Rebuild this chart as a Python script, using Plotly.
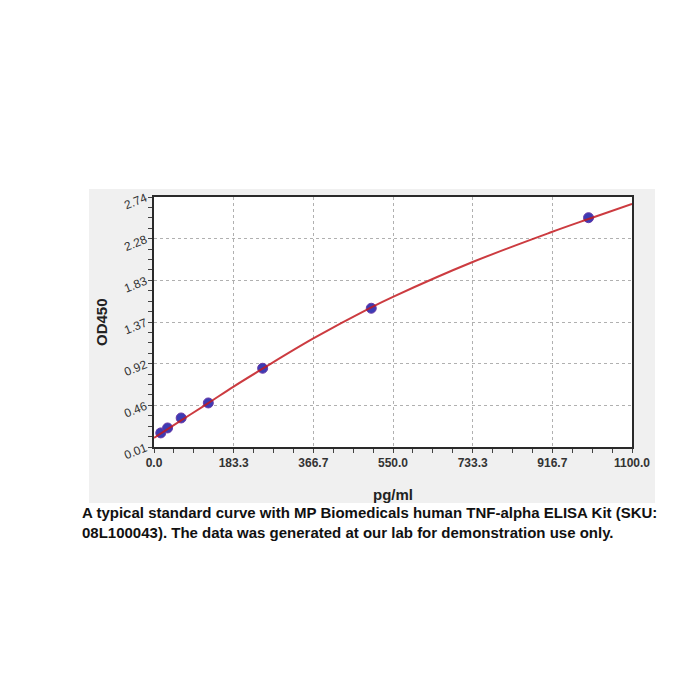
import plotly.graph_objects as go

# Standard points (pg/ml, OD450)
conc = [15.6, 31.25, 62.5, 125, 250, 500, 1000]
od = [0.164, 0.218, 0.327, 0.491, 0.870, 1.525, 2.514]

# Fitted curve
curve_x = [0, 62.5, 125, 183.3, 250, 366.7, 500, 550, 733.3, 916.7, 1000, 1100]
curve_y = [0.11, 0.30, 0.49, 0.67, 0.865, 1.195, 1.535, 1.65, 2.03, 2.36, 2.50, 2.665]

x_ticks = [0, 183.3, 366.7, 550, 733.3, 916.7, 1100]
x_labels = ["0.0", "183.3", "366.7", "550.0", "733.3", "916.7", "1100.0"]
y_ticks = [0.01, 0.465, 0.92, 1.375, 1.83, 2.285, 2.74]
y_labels = ["0.01", "0.46", "0.92", "1.37", "1.83", "2.28", "2.74"]

caption = ("A typical standard curve with MP Biomedicals human TNF-alpha ELISA Kit (SKU:<br>"
           "08L100043). The data was generated at our lab for demonstration use only.")

FONT = "Liberation Sans, Arial, sans-serif"

fig = go.Figure()
fig.add_trace(go.Scatter(x=conc, y=od, mode="markers",
                         marker=dict(color="#3c3cb4", size=10, line=dict(color="#6a3aa8", width=1)),
                         showlegend=False, hoverinfo="x+y"))
fig.add_trace(go.Scatter(x=curve_x, y=curve_y, mode="lines", line_shape="spline",
                         line=dict(color="rgba(195,25,30,0.85)", width=2),
                         showlegend=False, hoverinfo="skip"))

L, R, T, B = 154, 632, 197, 447
W, H = R - L, B - T

def px_x(p):
    return (p - L) / W

def px_y(p):
    return (B - p) / H

fig.update_layout(
    width=700, height=700,
    margin=dict(l=L, r=700 - R, t=T, b=700 - B),
    paper_bgcolor="white", plot_bgcolor="white",
    font=dict(family=FONT, color="#222"),
    shapes=[
        dict(type="rect", xref="paper", yref="paper", layer="below",
             x0=px_x(89), x1=px_x(655), y0=px_y(503), y1=px_y(189),
             fillcolor="#f0f0f0", line=dict(width=0)),
        dict(type="rect", xref="paper", yref="paper", layer="below",
             x0=0, x1=1, y0=0, y1=1, fillcolor="white", line=dict(width=0)),
    ],
    annotations=[
        dict(text=caption, xref="paper", yref="paper", x=px_x(80), y=px_y(502),
             xanchor="left", yanchor="top", align="left", showarrow=False,
             font=dict(family=FONT, size=15, color="#111", weight="bold")),
        dict(text="<b>pg/ml</b>", xref="paper", yref="paper", x=0.5, y=px_y(484),
             xanchor="center", yanchor="top", showarrow=False,
             font=dict(family=FONT, size=15, color="#222")),
        dict(text="<b>OD450</b>", xref="paper", yref="paper", x=px_x(101), y=0.5,
             xanchor="center", yanchor="middle", textangle=-90, showarrow=False,
             font=dict(family=FONT, size=15, color="#222")),
    ],
)

fig.update_xaxes(
    range=[0, 1100], tickmode="array", tickvals=x_ticks,
    ticktext=["<b>%s</b>" % t for t in x_labels],
    tickfont=dict(family=FONT, size=12, color="#333"),
    ticks="outside", ticklen=4, tickcolor="#444",
    showline=True, mirror=True, linecolor="#2a2a2a", linewidth=1.8,
    showgrid=True, gridcolor="#b0b0b0", griddash="3px,3px", gridwidth=1,
    zeroline=False,
    minor=dict(tickmode="linear", tick0=0, dtick=1100 / 24, ticks="outside",
               ticklen=4, tickcolor="#444", showgrid=False),
)
fig.update_yaxes(
    range=[0.01, 2.74], tickmode="array", tickvals=y_ticks, ticktext=y_labels,
    tickfont=dict(family=FONT, size=12, color="#333"), tickangle=-22,
    ticks="outside", ticklen=4, tickcolor="#444",
    showline=True, mirror=True, linecolor="#2a2a2a", linewidth=1.8,
    showgrid=True, gridcolor="#b0b0b0", griddash="3px,3px", gridwidth=1,
    zeroline=False,
    minor=dict(tickmode="linear", tick0=0.01, dtick=0.455 / 4, ticks="outside",
               ticklen=4, tickcolor="#444", showgrid=False),
)

fig.write_html("out.html")
